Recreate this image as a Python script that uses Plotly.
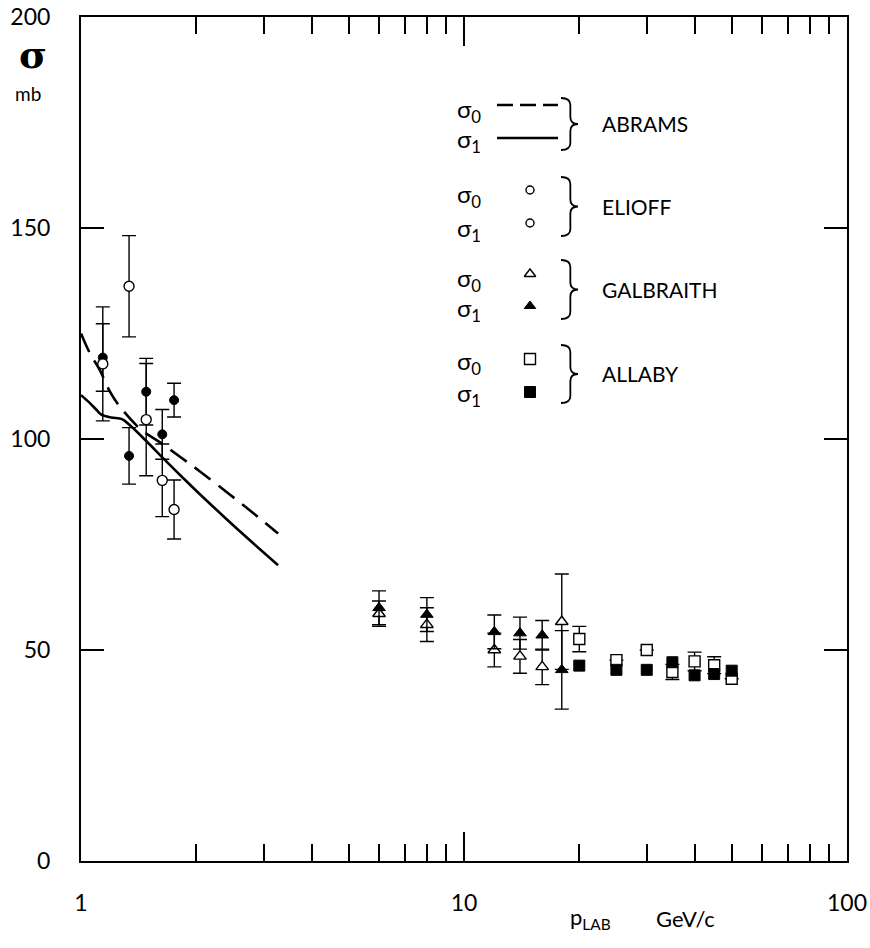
import plotly.graph_objects as go

# ---- data -------------------------------------------------------------
# ABRAMS curves (sigma_0 dashed, sigma_1 solid)
abrams_p0 = [1.0, 1.055, 1.12, 1.19, 1.25, 1.329, 1.44, 1.59, 1.813, 2.045, 2.45, 2.82, 3.27]
abrams_s0 = [125.0, 120.3, 116.3, 111.2, 108.2, 105.3, 102.1, 99.5, 95.8, 92.3, 86.8, 82.4, 77.6]
abrams_p1 = [1.0, 1.055, 1.10, 1.13, 1.20, 1.28, 1.34, 1.485, 1.64, 1.85, 2.05, 2.40, 2.76, 3.27]
abrams_s1 = [110.4, 108.5, 106.8, 105.8, 105.1, 104.7, 103.3, 99.4, 95.4, 90.7, 86.8, 81.0, 76.0, 70.1]

# ELIOFF points
elioff_p = [1.14, 1.335, 1.48, 1.63, 1.75]
elioff_s0 = [117.8, 136.2, 104.6, 90.2, 83.3]
elioff_e0 = [13.5, 12.0, 13.3, 8.6, 7.0]
elioff_s1 = [119.3, 96.0, 111.2, 101.1, 109.2]
elioff_e1 = [8.0, 6.7, 7.9, 5.9, 4.0]

# GALBRAITH points
galb_p = [6, 8, 12, 14, 16, 18]
galb_s0 = [58.6, 56.0, 50.0, 48.5, 46.0, 56.7]
galb_e0 = [3.0, 4.0, 4.0, 4.0, 4.2, 11.3]
galb_s1 = [60.0, 58.4, 54.3, 54.0, 53.5, 45.3]
galb_e1 = [4.0, 4.0, 4.0, 3.8, 3.5, 9.3]

# ALLABY points
allaby_p = [20, 25, 30, 35, 40, 45, 50]
allaby_s0 = [52.6, 47.6, 50.0, 44.8, 47.3, 46.4, 43.2]
allaby_e0 = [3.0, None, None, 1.8, 2.2, 2.0, None]
allaby_s1 = [46.3, 45.3, 45.3, 47.1, 44.0, 44.3, 45.1]

# axis ticks
x_major = [1, 10, 100]
x_minor = [2, 3, 4, 5, 6, 7, 8, 9, 20, 30, 40, 50, 60, 70, 80, 90]
y_ticks = [0, 50, 100, 150, 200]

FONT = "Lato"
W, H = 870, 948
L, R, T, B = 81, 23, 17, 87


def px_x(x):
    """page pixel -> paper fraction (horizontal)"""
    return (x - L) / (W - L - R)


def px_y(y):
    """page pixel -> paper fraction (vertical)"""
    return (H - B - y) / (H - T - B)


fig = go.Figure()

err_style = dict(type="data", color="black", thickness=1.4, width=7, visible=True)


def open_marker(symbol, size):
    return dict(symbol=symbol, size=size, color="white", line=dict(color="black", width=1.4))


def filled_marker(symbol, size):
    return dict(symbol=symbol, size=size, color="black", line=dict(color="black", width=1))


# ABRAMS curves
fig.add_trace(go.Scatter(x=abrams_p0, y=abrams_s0, mode="lines",
                         line=dict(color="black", width=2.6, dash="20px,10px", shape="spline"),
                         hoverinfo="skip"))
fig.add_trace(go.Scatter(x=abrams_p1, y=abrams_s1, mode="lines",
                         line=dict(color="black", width=2.6, shape="spline"),
                         hoverinfo="skip"))

# ELIOFF: filled underneath, open on top
fig.add_trace(go.Scatter(x=elioff_p, y=elioff_s1, mode="markers",
                         marker=filled_marker("circle", 9),
                         error_y=dict(array=elioff_e1, **err_style)))
fig.add_trace(go.Scatter(x=elioff_p, y=elioff_s0, mode="markers",
                         marker=open_marker("circle", 10),
                         error_y=dict(array=elioff_e0, **err_style)))

# GALBRAITH: open underneath, filled on top
fig.add_trace(go.Scatter(x=galb_p, y=galb_s0, mode="markers",
                         marker=open_marker("triangle-up", 11),
                         error_y=dict(array=galb_e0, **err_style)))
fig.add_trace(go.Scatter(x=galb_p, y=galb_s1, mode="markers",
                         marker=filled_marker("triangle-up", 11),
                         error_y=dict(array=galb_e1, **err_style)))

# ALLABY
fig.add_trace(go.Scatter(x=allaby_p, y=allaby_s0, mode="markers",
                         marker=open_marker("square", 11),
                         error_y=dict(array=allaby_e0, **err_style)))
fig.add_trace(go.Scatter(x=allaby_p, y=allaby_s1, mode="markers",
                         marker=filled_marker("square", 11)))

# ---- key (drawn on a pixel-space overlay axis) -------------------------
KX = dict(xaxis="x2", yaxis="y2", hoverinfo="skip")
fig.add_trace(go.Scatter(x=[497, 558], y=[105, 105], mode="lines",
                         line=dict(color="black", width=2.6, dash="16px,7px"), **KX))
fig.add_trace(go.Scatter(x=[497, 558], y=[138, 138], mode="lines",
                         line=dict(color="black", width=2.6), **KX))
fig.add_trace(go.Scatter(x=[530, 530], y=[190, 223], mode="markers",
                         marker=open_marker("circle", 8), **KX))
fig.add_trace(go.Scatter(x=[530], y=[274], mode="markers",
                         marker=open_marker("triangle-up", 10), **KX))
fig.add_trace(go.Scatter(x=[530], y=[306], mode="markers",
                         marker=filled_marker("triangle-up", 10), **KX))
fig.add_trace(go.Scatter(x=[530], y=[359], mode="markers",
                         marker=open_marker("square", 11), **KX))
fig.add_trace(go.Scatter(x=[530], y=[392], mode="markers",
                         marker=filled_marker("square", 11), **KX))

groups = [("ABRAMS", 98, 150, 108, 138),
          ("ELIOFF", 177, 236, 192, 226),
          ("GALBRAITH", 260, 319, 276, 306),
          ("ALLABY", 345, 403, 360, 391)]

shapes = []
annotations = []
for name, ytop, ybot, ys0, ys1 in groups:
    xl, xt = 561, 578
    xs = xl + 0.55 * (xt - xl)
    ym = (ytop + ybot) / 2
    path = (f"M {xl},{ytop} Q {xs},{ytop} {xs},{ytop + 7} "
            f"L {xs},{ym - 7} Q {xs},{ym} {xt},{ym} "
            f"Q {xs},{ym} {xs},{ym + 7} "
            f"L {xs},{ybot - 7} Q {xs},{ybot} {xl},{ybot}")
    shapes.append(dict(type="path", path=path, xref="x2", yref="y2",
                       line=dict(color="black", width=1.8)))
    annotations.append(dict(text=name, x=px_x(600), y=px_y(ym), xref="paper", yref="paper",
                            xanchor="left", yanchor="middle", showarrow=False,
                            font=dict(family=FONT, size=21, color="black")))
    for lab, yy in (("0", ys0), ("1", ys1)):
        annotations.append(dict(text=f"σ<sub>{lab}</sub>", x=px_x(455), y=px_y(yy + 3),
                                xref="paper", yref="paper", xanchor="left", yanchor="middle",
                                showarrow=False,
                                font=dict(family=FONT, size=24, color="black")))

# axis titles
annotations.append(dict(text="<b>σ</b>", x=px_x(33), y=px_y(55), xref="paper", yref="paper",
                        xanchor="center", yanchor="middle", showarrow=False,
                        font=dict(family="DejaVu Serif", size=38, color="black")))
annotations.append(dict(text="mb", x=px_x(28), y=px_y(93), xref="paper", yref="paper",
                        xanchor="center", yanchor="middle", showarrow=False,
                        font=dict(family=FONT, size=19, color="black")))
annotations.append(dict(text="p<sub>LAB</sub>", x=px_x(568), y=px_y(918),
                        xref="paper", yref="paper",
                        xanchor="left", yanchor="middle", showarrow=False,
                        font=dict(family=FONT, size=22, color="black")))
annotations.append(dict(text="GeV/c", x=px_x(717), y=px_y(918),
                        xref="paper", yref="paper",
                        xanchor="right", yanchor="middle", showarrow=False,
                        font=dict(family=FONT, size=22, color="black")))

fig.update_layout(
    width=W, height=H,
    margin=dict(l=L, r=R, t=T, b=B, pad=0, autoexpand=False),
    paper_bgcolor="white", plot_bgcolor="white",
    showlegend=False,
    font=dict(family=FONT, size=22, color="black"),
    shapes=shapes,
    annotations=annotations,
    xaxis=dict(type="log", range=[0, 2], tickmode="array", tickvals=x_major,
               ticktext=[str(v) for v in x_major],
               ticks="inside", ticklen=29, tickwidth=1.5, tickcolor="black",
               minor=dict(tickmode="array", tickvals=x_minor, ticks="inside",
                          ticklen=17, tickwidth=1.5, tickcolor="black"),
               showline=True, linecolor="black", linewidth=2, mirror="allticks",
               showgrid=False, zeroline=False, ticklabelstandoff=20,
               automargin=False, tickfont=dict(family=FONT, size=23)),
    yaxis=dict(range=[0, 200], tickmode="array", tickvals=y_ticks,
               ticks="inside", ticklen=23, tickwidth=1.5, tickcolor="black",
               showline=True, linecolor="black", linewidth=2, mirror="allticks",
               showgrid=False, zeroline=False, ticklabelstandoff=24,
               automargin=False, tickfont=dict(family=FONT, size=23)),
    xaxis2=dict(overlaying="x", range=[L, W - R], visible=False, fixedrange=True),
    yaxis2=dict(overlaying="y", range=[H - B, T], visible=False, fixedrange=True),
)

fig.write_html("out.html")
